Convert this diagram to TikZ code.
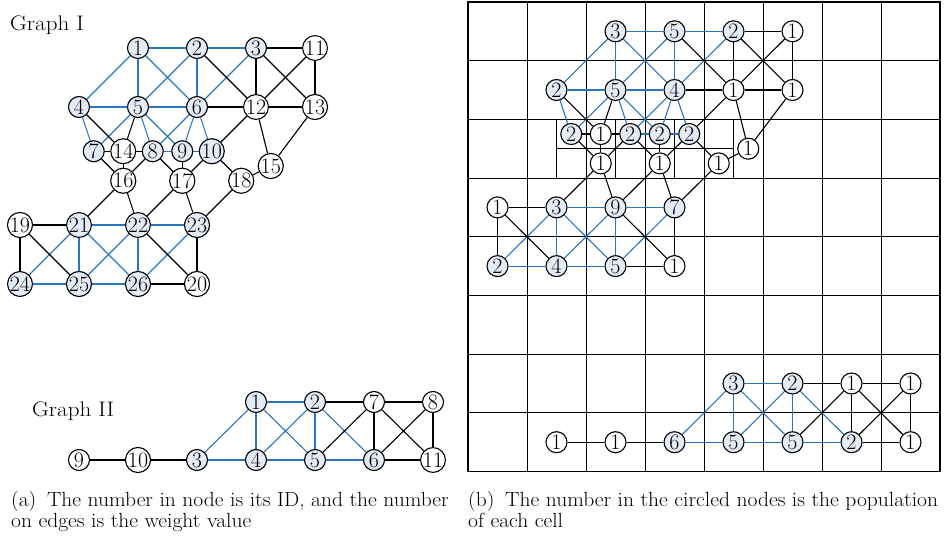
\documentclass[tikz,border=0pt]{standalone}
\usepackage{fontspec}
\usepackage{graphicx}
\definecolor{eblue}{RGB}{42,118,190}
\definecolor{nfill}{RGB}{228,235,246}
\pgfdeclarelayer{gridl}
\pgfdeclarelayer{edgel}
\pgfsetlayers{gridl,edgel,main}
\tikzset{
 gnode/.style={circle,draw=black,line width=1.1pt,minimum size=21pt,inner sep=0pt,font=\fontsize{22}{22}\selectfont,fill=white},
 fnode/.style={gnode,fill=nfill},
 bedge/.style={eblue,line width=1.1pt},
 kedge/.style={black,line width=1.1pt},
 gridline/.style={black,line width=0.9pt},
 captext/.style={anchor=base west,inner sep=0pt,font=\fontsize{20.5}{20.5}\selectfont},
 titletext/.style={anchor=base west,inner sep=0pt,font=\fontsize{21}{21}\selectfont},
}
\newcommand\wider[1]{\scalebox{1.05}[1]{#1}}
\newcommand\widert[1]{\scalebox{1.1}[1]{#1}}
\def\GInodes{1/1/-1/fnode/3, 2/2/-1/fnode/5, 3/3/-1/fnode/2, 11/4/-1/gnode/1,
 4/0/0/fnode/2, 5/1/0/fnode/5, 6/2/0/fnode/4, 12/3/0/gnode/1, 13/4/0/gnode/1,
 7/0.25/0.75/fnode/2, 14/0.75/0.75/gnode/1, 8/1.25/0.75/fnode/2, 9/1.75/0.75/fnode/2, 10/2.25/0.75/fnode/2,
 15/3.25/1/gnode/1, 16/0.75/1.25/gnode/1, 17/1.75/1.25/gnode/1, 18/2.75/1.25/gnode/1,
 19/-1/2/gnode/1, 21/0/2/fnode/3, 22/1/2/fnode/9, 23/2/2/fnode/7,
 24/-1/3/fnode/2, 25/0/3/fnode/4, 26/1/3/fnode/5, 20/2/3/gnode/1}
\def\GIblue{1/2, 2/3, 1/4, 1/5, 1/6, 2/5, 2/6, 3/6, 4/5, 5/6, 4/7, 5/7, 5/8, 5/9, 6/8, 6/9, 6/10, 8/9, 9/10,
 21/22, 22/23, 21/24, 21/25, 21/26, 22/25, 22/26, 23/26, 24/25, 25/26}
\def\GIblack{3/11, 2/12, 3/12, 3/13, 11/12, 11/13, 6/12, 12/13, 12/10, 12/15, 13/15, 4/14, 5/14, 7/14, 14/8,
 14/16, 7/16, 8/16, 8/17, 9/17, 10/17, 10/18, 18/15, 16/21, 16/22, 17/22, 17/23, 18/23, 19/21, 19/24, 19/25,
 22/20, 23/20, 26/20}
\def\GIInodes{1/0/0/fnode/3, 2/1/0/fnode/2, 7/2/0/gnode/1, 8/3/0/gnode/1, 9/-3/1/gnode/1, 10/-2/1/gnode/1,
 3/-1/1/fnode/6, 4/0/1/fnode/5, 5/1/1/fnode/5, 6/2/1/fnode/2, 11/3/1/gnode/1}
\def\GIIblue{1/2, 3/1, 3/4, 1/4, 1/5, 2/4, 2/5, 2/6, 4/5, 5/6}
\def\GIIblack{9/10, 10/3, 2/7, 7/8, 7/5, 7/6, 7/11, 8/6, 8/11, 6/11}
\begin{document}
\begin{tikzpicture}[x=1pt,y=-1pt]
\useasboundingbox (0,0) rectangle (945,537);
% titles
\node[titletext] (t1) at (10,30.5) {\widert{Graph I}};
\node[titletext] (t2) at (32,416) {\widert{Graph II}};
% Graph I (left)
\begin{scope}[shift={(79pt,-107pt)},x=59pt,y=-59pt]
 \foreach \n/\c/\r/\s/\l in \GInodes { \node[\s] (a\n) at (\c,\r) {\n}; }
\end{scope}
% Graph II (left)
\begin{scope}[shift={(256pt,-402pt)},x=59pt,y=-58pt]
 \foreach \n/\c/\r/\s/\l in \GIInodes { \node[\s] (c\n) at (\c,\r) {\n}; }
\end{scope}
% Graph I (grid)
\begin{scope}[shift={(556.5pt,-90pt)},x=59pt,y=-58.7pt]
 \foreach \n/\c/\r/\s/\l in \GInodes { \node[\s] (b\n) at (\c,\r) {\l}; }
\end{scope}
% Graph II (grid)
\begin{scope}[shift={(733.5pt,-383.5pt)},x=59pt,y=-58.7pt]
 \foreach \n/\c/\r/\s/\l in \GIInodes { \node[\s] (d\n) at (\c,\r) {\l}; }
\end{scope}
% grid
\begin{pgfonlayer}{gridl}
 \foreach \i in {1,...,7} {
  \draw[gridline] ({468+\i*59},2) -- ({468+\i*59},471.6);
  \draw[gridline] (468,{2+\i*58.7}) -- (940,{2+\i*58.7});
 }
 \foreach \xx in {556.5,615.5,674.5,733.5} { \draw[gridline] (\xx,119.4) -- (\xx,178.1); }
 \draw[gridline] (556.5,148.75) -- (733.5,148.75);
 \draw[line width=1.3pt] (468,2) rectangle (940,471.6);
\end{pgfonlayer}
% edges
\begin{pgfonlayer}{edgel}
 \foreach \u/\v in \GIblue { \draw[bedge] (a\u) -- (a\v); \draw[bedge] (b\u) -- (b\v); }
 \foreach \u/\v in \GIblack { \draw[kedge] (a\u) -- (a\v); \draw[kedge] (b\u) -- (b\v); }
 \foreach \u/\v in \GIIblue { \draw[bedge] (c\u) -- (c\v); \draw[bedge] (d\u) -- (d\v); }
 \foreach \u/\v in \GIIblack { \draw[kedge] (c\u) -- (c\v); \draw[kedge] (d\u) -- (d\v); }
\end{pgfonlayer}
% captions
\node[captext] (ca1) at (11,506) {\wider{(a)\enspace The number in node is its ID, and the number}};
\node[captext] (ca2) at (11,527) {\wider{on edges is the weight value}};
\node[captext] (cb1) at (468,506) {\wider{(b)\enspace The number in the circled nodes is the population}};
\node[captext] (cb2) at (468,527) {\wider{of each cell}};
\end{tikzpicture}
\end{document}
